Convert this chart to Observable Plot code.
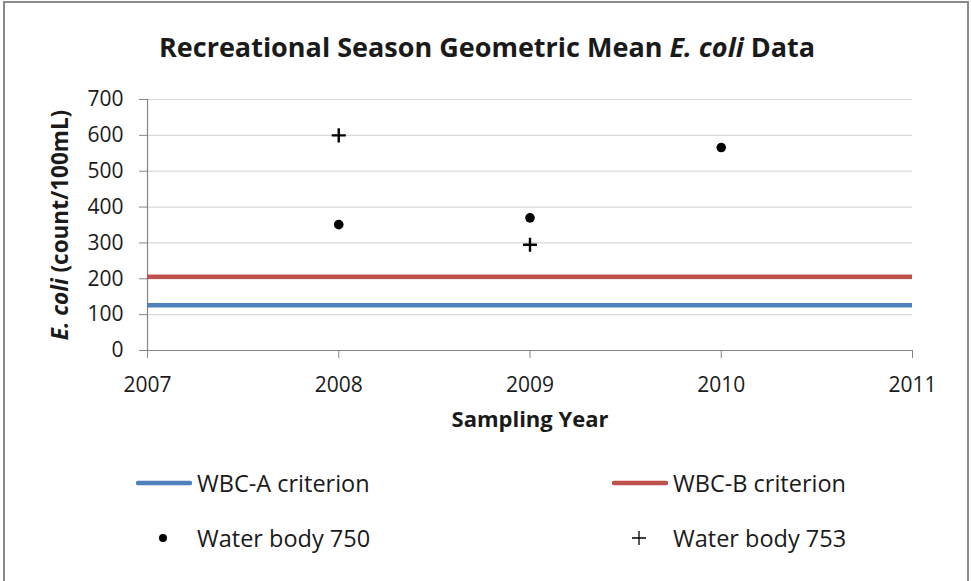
<!DOCTYPE html>
<html>
<head>
<meta charset="utf-8">
<script src="https://cdn.jsdelivr.net/npm/d3@7"></script>
<script src="https://cdn.jsdelivr.net/npm/@observablehq/plot@0.6"></script>
<style>
  html, body { margin: 0; padding: 0; background: #fff; }
  #wrap { position: relative; width: 971px; height: 581px; overflow: hidden; background: #fff; font-family: "Open Sans", Lato, sans-serif; color: #1a1a1a; }
  #frame { position: absolute; left: 3px; top: 1px; width: 966px; height: 620px; border: 2px solid #8a8a8a; box-sizing: border-box; pointer-events: none; }
  #chart { position: absolute; left: 0; top: 0; }
  #legend { position: absolute; left: 0; top: 460px; width: 971px; height: 121px; }
  .item { position: absolute; height: 30px; display: flex; align-items: center; font-size: 23.5px; white-space: nowrap; }
  .item svg { display: block; margin-right: 5px; flex: none; }
</style>
</head>
<body>
<div id="wrap">
  <div id="chart"></div>
  <div id="legend"></div>
  <div id="frame"></div>
</div>
<script>
// ---- data ----
const years = [2007, 2008, 2009, 2010, 2011];
const yTicks = [0, 100, 200, 300, 400, 500, 600, 700];
const wb750Years = [2008, 2009, 2010];
const wb750Values = [351, 370, 566];
const wb753Years = [2008, 2009];
const wb753Values = [600, 295];
const criteriaNames = ["WBC-A criterion", "WBC-B criterion"];
const criteriaValues = [126, 206];
const criteriaColors = ["#4f81bd", "#c0504d"];
const seriesNames = ["Water body 750", "Water body 753"];

const wb750 = wb750Years.map((x, i) => ({x, y: wb750Values[i]}));
const wb753 = wb753Years.map((x, i) => ({x, y: wb753Values[i]}));

const axisGray = "#868686";
const textColor = "#1a1a1a";
const FONT = "'Open Sans', Lato, sans-serif";

const chart = Plot.plot({
  width: 971,
  height: 460,
  marginLeft: 147,
  marginRight: 59,
  marginTop: 99,
  marginBottom: 110,
  style: {fontFamily: FONT, fontSize: "21px", color: textColor, background: "transparent", overflow: "visible"},
  x: {domain: [2007, 2011]},
  y: {domain: [0, 700]},
  marks: [
    Plot.gridY(yTicks, {stroke: "#d9d9d9", strokeOpacity: 1, strokeWidth: 1.2}),
    Plot.ruleX([2007], {stroke: axisGray, strokeWidth: 1.2}),
    Plot.ruleY([0], {stroke: axisGray, strokeWidth: 1.2}),
    Plot.ruleY([criteriaValues[0]], {stroke: criteriaColors[0], strokeWidth: 4.5}),
    Plot.ruleY([criteriaValues[1]], {stroke: criteriaColors[1], strokeWidth: 4.5}),
    Plot.axisY({ticks: yTicks, tickSize: 8, tickPadding: 16, stroke: axisGray, fill: textColor, label: null, fontSize: 21}),
    Plot.axisX({ticks: years, tickSize: 8, tickPadding: 19, tickFormat: d => String(d), stroke: axisGray, fill: textColor, label: null, fontSize: 21}),
    Plot.dot(wb750, {x: "x", y: "y", r: 4.8, fill: "black", symbol: "circle"}),
    Plot.dot(wb753, {x: "x", y: "y", r: 4.6, stroke: "black", strokeWidth: 2.4, symbol: "plus"}),
    Plot.text(["Sampling Year"], {frameAnchor: "bottom", dy: 76, fontWeight: "bold", fontSize: 22, fill: textColor})
  ]
});
document.getElementById("chart").appendChild(chart);

const svg = d3.select(chart);
// title
const title = svg.append("text")
  .attr("x", 487).attr("y", 57)
  .attr("text-anchor", "middle")
  .attr("font-size", 27).attr("font-weight", "bold")
  .attr("fill", textColor);
title.append("tspan").text("Recreational Season Geometric Mean ");
title.append("tspan").attr("font-style", "italic").text("E. coli");
title.append("tspan").text(" Data");

// y axis title
const ylab = svg.append("text")
  .attr("transform", "translate(60,225) rotate(-90)")
  .attr("text-anchor", "middle")
  .attr("dy", "0.35em")
  .attr("font-size", 22.5).attr("font-weight", "bold")
  .attr("fill", textColor);
ylab.append("tspan").attr("font-style", "italic").text("E. coli");
ylab.append("tspan").text(" (count/100mL)");

// legend
const legend = document.getElementById("legend");
function addItem(left, centerY, swatch, label) {
  const div = document.createElement("div");
  div.className = "item";
  div.style.left = left + "px";
  div.style.top = (centerY - 460 - 15) + "px";
  div.innerHTML = `<svg width="56" height="30">${swatch}</svg><span>${label}</span>`;
  legend.appendChild(div);
}
addItem(136, 483, `<line x1="2" x2="54" y1="15" y2="15" stroke="${criteriaColors[0]}" stroke-width="4.5" stroke-linecap="round"/>`, criteriaNames[0]);
addItem(612, 483, `<line x1="2" x2="54" y1="15" y2="15" stroke="${criteriaColors[1]}" stroke-width="4.5" stroke-linecap="round"/>`, criteriaNames[1]);
addItem(136, 538, `<circle cx="27" cy="15" r="4" fill="black"/>`, seriesNames[0]);
addItem(612, 538, `<path d="M20,15H34M27,8V22" stroke="black" stroke-width="1.3" fill="none"/>`, seriesNames[1]);
</script>
</body>
</html>
